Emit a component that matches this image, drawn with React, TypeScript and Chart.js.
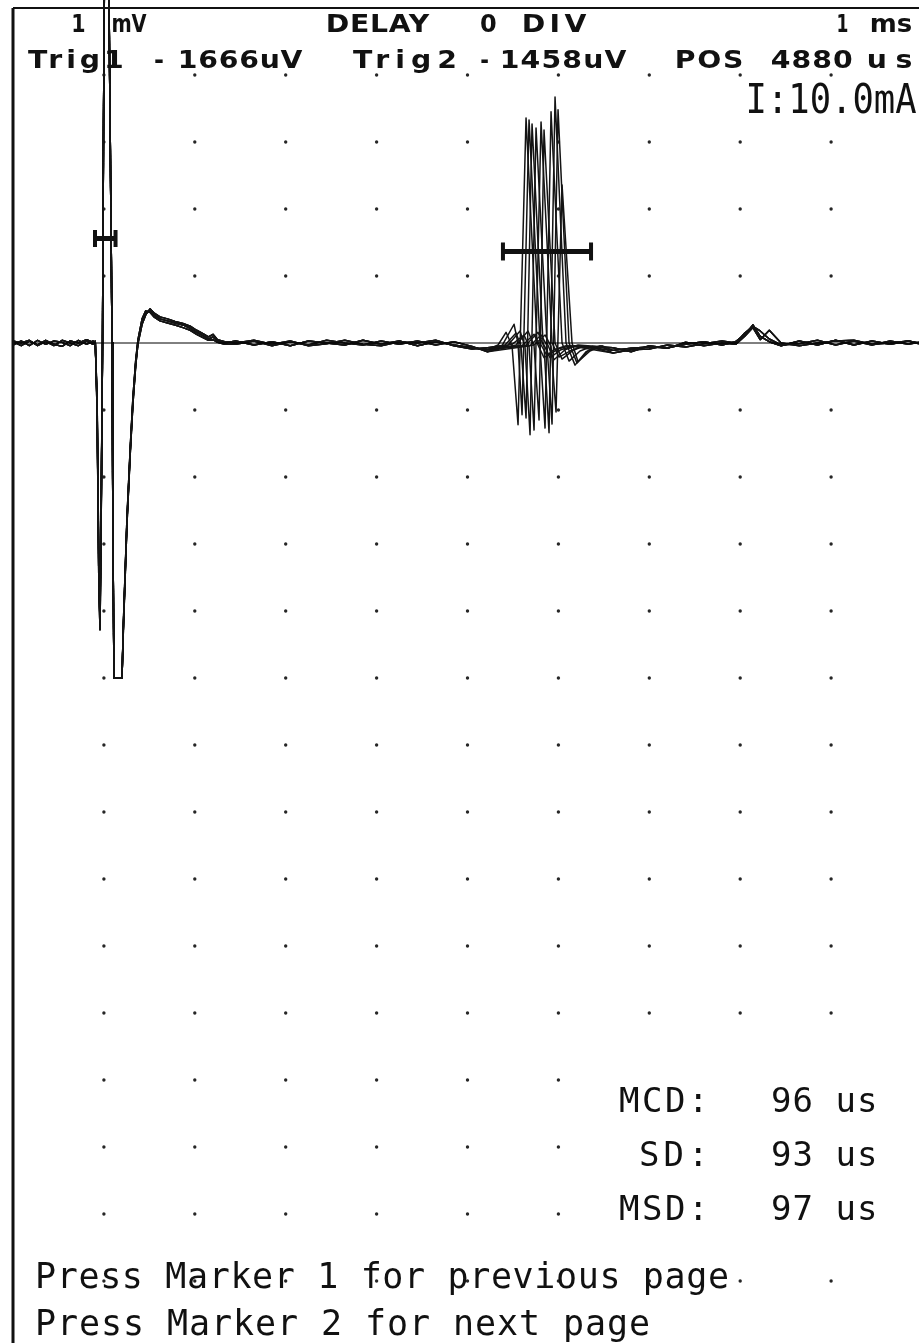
import React, { useEffect, useRef } from 'react';
import { Chart, registerables } from 'chart.js';
Chart.register(...registerables);

// ---- scale ranges (ms across, mV up) ----
const X_MAX = 9.967;
const Y_MAX = 5;
const Y_MIN = -14.925;

// ---- grid dot ticks ----
const GRID_X_TICKS = [1, 2, 3, 4, 5, 6, 7, 8, 9];
const GRID_Y_TICKS = [4, 3, 2, 1, -1, -2, -3, -4, -5, -6, -7, -8, -9, -10, -11, -12, -13, -14];

// ---- header / readout values ----
const GAIN_MV = 1;
const SWEEP_MS = 1;
const DELAY_DIV = 0;
const TRIG1_UV = -1666;
const TRIG2_UV = -1458;
const POS_US = 4880;
const STIM_MA = '10.0';
const MCD_US = 96;
const SD_US = 93;
const MSD_US = 97;

// ---- baseline before stimulus (ms, mV) ----
const PRE_X = [0, 0.09, 0.18, 0.27, 0.36, 0.45, 0.54, 0.63, 0.72, 0.81, 0.88];
const PRE_Y_A = [0.02, -0.04, 0.03, -0.03, 0.04, -0.02, -0.05, 0.03, 0.0, 0.05, 0.01];
const PRE_Y_B = [-0.03, 0.03, -0.04, 0.04, -0.02, 0.03, 0.01, -0.04, 0.04, -0.02, 0.03];
const PRE_Y_C = [0.03, 0.0, 0.04, -0.04, 0.02, -0.04, 0.04, 0.0, -0.04, 0.03, -0.02];

// ---- stimulus artifact + after-potential ----
const ART_X = [0.905, 0.925, 0.945, 0.957, 0.968, 0.985, 0.995, 1.005, 1.055, 1.07, 1.09, 1.1, 1.111, 1.199, 1.215,
  1.254, 1.29, 1.32, 1.35, 1.375, 1.42, 1.46, 1.507, 1.55, 1.617, 1.7, 1.782, 1.87, 1.95, 2.02, 2.09, 2.15, 2.2, 2.25, 2.33];
const ART_Y_A = [0.02, -0.9, -3.6, -4.28, -3.0, 0, 3.0, 5.3, 5.3, 3.0, 0, -3.0, -5.0, -5.0, -4.2,
  -2.65, -1.6, -0.85, -0.3, 0.02, 0.32, 0.45, 0.49, 0.42, 0.36, 0.33, 0.3, 0.27, 0.22, 0.16, 0.11, 0.06, 0.09, 0.03, 0.0];
const ART_Y_B = [0.01, -0.8, -3.4, -3.95, -2.8, 0, 3.0, 5.3, 5.3, 3.0, 0, -3.0, -5.0, -5.0, -4.15,
  -2.6, -1.55, -0.8, -0.26, 0.05, 0.36, 0.48, 0.46, 0.39, 0.33, 0.3, 0.27, 0.23, 0.19, 0.13, 0.08, 0.04, 0.05, 0.01, -0.02];
const ART_Y_C = [0.03, -1.0, -3.7, -4.1, -2.9, 0, 3.0, 5.3, 5.3, 3.0, 0, -3.0, -5.0, -5.0, -4.25,
  -2.7, -1.65, -0.9, -0.34, -0.01, 0.28, 0.42, 0.51, 0.45, 0.39, 0.36, 0.32, 0.29, 0.25, 0.19, 0.14, 0.09, 0.13, 0.05, 0.02];

// ---- baseline between artifact and response ----
const MID_X = [2.45, 2.65, 2.85, 3.05, 3.25, 3.45, 3.65, 3.85, 4.05, 4.25, 4.45, 4.65, 4.85, 5.05, 5.22];
const MID_Y_A = [0.03, -0.03, 0.02, -0.04, 0.03, 0.0, -0.03, 0.04, -0.02, 0.03, -0.04, 0.02, -0.03, -0.07, -0.1];
const MID_Y_B = [-0.02, 0.03, -0.04, 0.02, -0.03, 0.04, 0.0, -0.03, 0.03, -0.02, 0.03, -0.03, 0.02, -0.05, -0.13];
const MID_Y_C = [0.0, 0.04, -0.02, 0.03, -0.04, -0.01, 0.04, -0.02, -0.04, 0.02, 0.0, 0.04, -0.04, -0.09, -0.07];

// ---- single-fibre responses, one per sweep (jitter) ----
const RESP_X = [
  [5.336, 5.424, 5.49, 5.556, 5.644, 5.765, 5.842, 5.952, 6.084],
  [5.38, 5.512, 5.556, 5.6, 5.677, 5.798, 5.875, 5.996, 6.128],
  [5.446, 5.578, 5.633, 5.688, 5.754, 5.875, 5.952, 6.073, 6.216],
  [5.49, 5.622, 5.677, 5.732, 5.809, 5.93, 6.007, 6.128, 6.26],
  [5.534, 5.666, 5.732, 5.787, 5.842, 5.963, 6.04, 6.161, 6.293],
  [5.6, 5.732, 5.798, 5.853, 5.919, 6.04, 6.117, 6.238, 6.37],
  [5.644, 5.776, 5.842, 5.897, 5.963, 6.084, 6.183, 6.304, 6.436],
  [5.688, 5.809, 5.875, 5.93, 5.996, 6.117, 6.205, 6.326, 6.458],
  [5.413, 5.534, 5.589, 5.644, 5.71, 5.831, 5.908, 6.029, 6.172],
  [5.732, 5.853, 5.919, 5.974, 6.04, 6.15, 6.216, 6.348, 6.48],
];
const RESP_Y = [
  [-0.03, 0.16, -0.04, -1.22, 3.36, 0.0, -0.22, -0.1, -0.04],
  [-0.04, 0.28, -0.01, -1.07, 3.33, 0.0, -0.19, -0.09, -0.04],
  [-0.03, 0.18, -0.06, -1.37, 3.21, 0.0, -0.25, -0.1, -0.03],
  [-0.02, 0.12, -0.05, -1.3, 3.3, 0.0, -0.21, -0.12, -0.05],
  [-0.03, 0.18, -0.04, -1.15, 3.18, 0.0, -0.24, -0.11, -0.04],
  [-0.04, 0.13, -0.05, -1.27, 3.45, 0.0, -0.27, -0.12, -0.05],
  [-0.03, 0.16, -0.06, -1.34, 3.67, 0.0, -0.33, -0.13, -0.05],
  [-0.04, 0.12, -0.04, -1.21, 3.48, 0.0, -0.3, -0.12, -0.04],
  [-0.03, 0.15, -0.05, -1.12, 3.27, 0.0, -0.22, -0.1, -0.04],
  [-0.03, 0.12, -0.05, -1.03, 2.36, 0.0, -0.28, -0.12, -0.04],
];

// ---- baseline after response ----
const POST_X = [6.6, 6.8, 7.0, 7.2, 7.4, 7.6, 7.8, 7.95, 8.05, 8.14, 8.22, 8.32, 8.45, 8.65, 8.85, 9.05, 9.25, 9.45, 9.65, 9.85, 9.967];
const POST_Y_A = [-0.11, -0.08, -0.06, -0.07, -0.02, 0.02, -0.03, 0.02, 0.12, 0.27, 0.1, 0.02, -0.04, 0.03, -0.03, 0.04, -0.03, 0.03, -0.02, 0.03, 0.0];
const POST_Y_B = [-0.15, -0.1, -0.09, -0.03, -0.06, -0.01, 0.03, 0.0, 0.15, 0.25, 0.18, 0.06, -0.03, -0.01, 0.04, -0.03, 0.03, -0.03, 0.03, -0.02, 0.01];
const POST_Y_C = [-0.07, -0.13, -0.04, -0.08, 0.01, -0.04, 0.0, -0.02, 0.1, 0.23, 0.05, 0.19, 0.0, -0.04, 0.0, 0.03, 0.04, -0.02, 0.0, 0.03, -0.01];

// which noise / artifact variant each sweep uses
const SWEEP_VARIANT = [0, 1, 2, 0, 1, 2, 0, 1, 2, 0];

// ---- marker bars (ms start, ms end, mV level) ----
const MARKER1 = [0.902, 1.128, 1.56];
const MARKER2 = [5.39, 6.359, 1.366];

const PRE_Y = [PRE_Y_A, PRE_Y_B, PRE_Y_C];
const ART_Y = [ART_Y_A, ART_Y_B, ART_Y_C];
const MID_Y = [MID_Y_A, MID_Y_B, MID_Y_C];
const POST_Y = [POST_Y_A, POST_Y_B, POST_Y_C];

const zip = (xs: number[], ys: number[]) => xs.map((x, i) => ({ x, y: ys[i] }));

// draws text so its ink spans x0..x1; glyphs are widened up to maxScale, the rest is letter spacing
function fitText(ctx: CanvasRenderingContext2D, text: string, x0: number, x1: number, baseline: number, font: string, maxScale = 1) {
  ctx.font = font;
  const anyCtx = ctx as any;
  const hasLS = 'letterSpacing' in anyCtx;
  if (hasLS) anyCtx.letterSpacing = '0px';
  const m = ctx.measureText(text);
  const ink = m.actualBoundingBoxLeft + m.actualBoundingBoxRight;
  const target = x1 - x0;
  let s = target / ink;
  if (hasLS || text.length < 2) s = Math.min(s, maxScale);
  ctx.save();
  ctx.translate(x0, baseline);
  ctx.scale(s, 1);
  if (text.length > 1 && hasLS) {
    const ls = (target / s - ink) / (text.length - 1);
    anyCtx.letterSpacing = ls + 'px';
  }
  ctx.fillText(text, m.actualBoundingBoxLeft, 0);
  if (hasLS) anyCtx.letterSpacing = '0px';
  ctx.restore();
}

const overlay = {
  id: 'scopeOverlay',
  afterDraw(chart: any) {
    const ctx: CanvasRenderingContext2D = chart.ctx;
    const { left, top, right, bottom } = chart.chartArea;
    ctx.save();
    // frame
    ctx.strokeStyle = '#111';
    ctx.lineWidth = 3;
    ctx.beginPath();
    ctx.moveTo(left, bottom);
    ctx.lineTo(left, top);
    ctx.stroke();
    ctx.lineWidth = 2;
    ctx.beginPath();
    ctx.moveTo(left, top);
    ctx.lineTo(right, top);
    ctx.stroke();

    ctx.fillStyle = '#111';
    ctx.textAlign = 'left';
    ctx.textBaseline = 'alphabetic';
    const hf = 'bold 24px "DejaVu Sans"';
    const hs = 1.18;
    // header row 1
    fitText(ctx, String(GAIN_MV), 73, 85, 32, hf, hs);
    fitText(ctx, 'mV', 113, 147, 32, hf, hs);
    fitText(ctx, 'DELAY', 328, 430, 32, hf, hs);
    fitText(ctx, String(DELAY_DIV), 481, 496, 32, hf, hs);
    fitText(ctx, 'DIV', 524, 587, 32, hf, hs);
    fitText(ctx, String(SWEEP_MS), 838, 848, 32, hf, hs);
    fitText(ctx, 'ms', 872, 912, 32, hf, hs);
    // header row 2
    fitText(ctx, 'Trig1', 28, 123, 68, hf, hs);
    fitText(ctx, '-', 155, 163, 68, hf, hs);
    fitText(ctx, `${Math.abs(TRIG1_UV)}uV`, 180, 303, 68, hf, hs);
    fitText(ctx, 'Trig2', 353, 455, 68, hf, hs);
    fitText(ctx, '-', 481, 488, 68, hf, hs);
    fitText(ctx, `${Math.abs(TRIG2_UV)}uV`, 502, 627, 68, hf, hs);
    fitText(ctx, 'POS', 677, 742, 68, hf, hs);
    fitText(ctx, String(POS_US), 772, 852, 68, hf, hs);
    fitText(ctx, 'us', 868, 912, 68, hf, hs);
    // stimulus current (condensed)
    fitText(ctx, `I:${STIM_MA}mA`, 749, 916, 113, '41px "DejaVu Sans Mono"', 10);

    // jitter readout box
    ctx.fillStyle = '#fff';
    ctx.fillRect(605, 1062, 314, 168);
    ctx.fillStyle = '#111';
    const sf = '34px "DejaVu Sans Mono"';
    fitText(ctx, 'MCD:', 620, 701, 1112, sf);
    fitText(ctx, 'SD:', 641, 701, 1166, sf);
    fitText(ctx, 'MSD:', 620, 701, 1220, sf);
    fitText(ctx, `${MCD_US} us`, 773, 875, 1112, sf);
    fitText(ctx, `${SD_US} us`, 773, 875, 1166, sf);
    fitText(ctx, `${MSD_US} us`, 773, 875, 1220, sf);

    // footer
    const ff = '35px "DejaVu Sans Mono"';
    fitText(ctx, 'Press Marker 1 for previous page', 38, 727, 1288, ff);
    fitText(ctx, 'Press Marker 2 for next page', 38, 648, 1335, ff);
    ctx.restore();
  },
};

export default function App() {
  const ref = useRef<HTMLCanvasElement>(null);
  useEffect(() => {
    const sweeps = SWEEP_VARIANT.map((k, i) => ({
      label: `sweep ${i + 1}`,
      data: [
        ...zip(PRE_X, PRE_Y[k]),
        ...zip(ART_X, ART_Y[k]),
        ...zip(MID_X, MID_Y[k]),
        ...zip(RESP_X[i], RESP_Y[i]),
        ...zip(POST_X, POST_Y[k]),
      ],
      showLine: true,
      borderColor: '#141414',
      borderWidth: 1.5,
      pointRadius: 0,
      tension: 0,
      clip: false as any,
      borderJoinStyle: 'round' as const,
    }));
    const markerDs = (m: number[], r: number) => ({
      label: 'marker',
      data: [{ x: m[0], y: m[2] }, { x: m[1], y: m[2] }],
      showLine: true,
      borderColor: '#111',
      borderWidth: 5,
      pointStyle: 'line' as const,
      rotation: 90,
      pointRadius: r,
      pointBorderWidth: 4,
      pointBorderColor: '#111',
      pointBackgroundColor: '#111',
    });
    const gridPts: { x: number; y: number }[] = [];
    GRID_Y_TICKS.forEach((y) => GRID_X_TICKS.forEach((x) => gridPts.push({ x, y })));
    const chart = new Chart(ref.current as HTMLCanvasElement, {
      type: 'scatter',
      data: {
        datasets: [
          markerDs(MARKER1, 8.5),
          markerDs(MARKER2, 9),
          {
            label: 'zero',
            data: [{ x: 0, y: 0 }, { x: X_MAX, y: 0 }],
            showLine: true,
            borderColor: '#000',
            borderWidth: 1,
            pointRadius: 0,
          },
          ...sweeps,
          {
            label: 'grid',
            data: gridPts,
            showLine: false,
            pointRadius: 1.7,
            pointBorderWidth: 0,
            pointBackgroundColor: '#262626',
          },
        ] as any,
      },
      options: {
        responsive: false,
        animation: false,
        devicePixelRatio: 1,
        events: [],
        layout: { autoPadding: false, padding: { left: 13, top: 8, right: 0, bottom: 0 } },
        plugins: { legend: { display: false }, tooltip: { enabled: false } },
        scales: {
          x: { type: 'linear', min: 0, max: X_MAX, display: false },
          y: { type: 'linear', min: Y_MIN, max: Y_MAX, display: false },
        },
      },
      plugins: [overlay],
    });
    return () => chart.destroy();
  }, []);
  return (
    <div style={{ position: 'absolute', left: 0, top: 0, width: 919, height: 1343, background: '#fff' }}>
      <canvas ref={ref} width={919} height={1343} style={{ display: 'block', width: 919, height: 1343 }} />
    </div>
  );
}
